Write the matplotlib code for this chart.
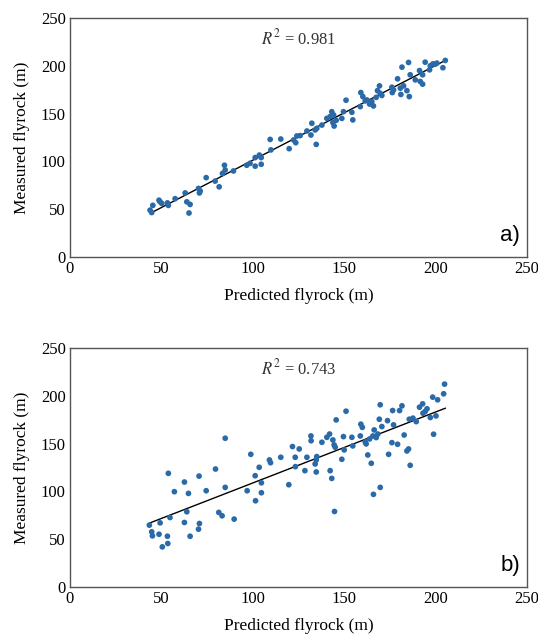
import numpy as np
import matplotlib
matplotlib.use("Agg")
import matplotlib.pyplot as plt

# ---- Panel a) data ----
a_pred = [43.8, 44.7, 45.3, 48.7, 49.3, 50.2, 53.3, 53.8, 57.5, 63.0, 63.9, 65.7, 65.1,
          70.3, 70.8, 71.2, 74.5, 79.4, 81.6, 83.4, 84.5, 84.9, 89.4, 96.7, 98.5, 101.3,
          101.3, 103.6, 104.6, 104.6, 109.5, 109.9, 115.3, 119.9, 122.3, 123.5, 124.1,
          125.9, 129.6, 131.8, 132.3, 134.1, 134.7, 135.0, 137.8, 140.5, 142.3, 143.2,
          144.2, 143.8, 144.5, 145.6, 148.7, 149.6, 151.0, 154.2, 154.7, 158.8, 159.1,
          160.2, 161.5, 162.4, 163.9, 165.1, 166.0, 167.5, 168.2, 169.3, 169.7, 170.6,
          176.1, 176.3, 177.0, 179.2, 180.7, 181.6, 181.0, 182.5, 184.3, 185.2, 185.6,
          186.1, 188.9, 191.2, 191.6, 192.9, 192.9, 194.3, 196.7, 197.1, 198.5, 199.8,
          200.7, 204.0, 205.3]
a_meas = [49.0, 46.5, 54.0, 59.4, 57.7, 56.0, 56.6, 54.0, 61.0, 67.0, 57.7, 55.0, 46.0,
          71.7, 67.0, 69.0, 83.0, 79.4, 73.4, 87.4, 96.0, 91.0, 90.0, 96.0, 98.0, 95.0,
          104.0, 106.6, 104.0, 97.0, 123.0, 112.0, 123.4, 113.3, 122.4, 119.6, 126.6,
          127.0, 131.8, 127.6, 139.9, 132.9, 117.8, 134.6, 138.0, 145.0, 146.9, 152.0,
          148.6, 140.6, 137.0, 143.0, 145.0, 152.0, 164.0, 151.4, 143.4, 157.3, 172.0,
          167.8, 163.3, 164.3, 160.0, 162.6, 158.0, 167.0, 174.0, 179.0, 171.3, 169.0,
          177.6, 172.0, 174.8, 186.4, 176.6, 198.6, 170.0, 179.0, 174.0, 203.5, 167.8,
          190.6, 185.3, 195.0, 183.6, 190.6, 180.8, 203.8, 195.8, 200.0, 202.0, 201.7,
          202.8, 198.0, 205.6]
a_fit_x = [44.7, 205.3]
a_fit_y = [46.5, 205.6]
a_r2 = "0.981"

# ---- Panel b) data ----
b_pred = [43.4, 44.7, 45.1, 49.3, 48.7, 50.5, 53.3, 53.5, 53.8, 54.7, 57.1, 62.6, 62.6,
          63.9, 64.8, 65.7, 70.3, 70.8, 70.6, 74.5, 79.6, 81.4, 83.2, 84.9, 84.9, 89.8,
          96.9, 98.9, 101.3, 101.5, 103.5, 104.7, 104.7, 109.1, 109.7, 115.3, 119.7,
          121.7, 123.2, 123.3, 125.4, 128.5, 129.6, 131.8, 131.9, 134.1, 134.7, 134.7,
          135.0, 137.8, 140.5, 142.0, 142.3, 143.2, 143.8, 144.5, 145.1, 144.7, 145.6,
          148.7, 149.6, 150.0, 151.0, 154.2, 154.7, 158.8, 159.1, 159.9, 161.5, 162.0,
          162.9, 163.9, 164.8, 165.7, 166.0, 166.4, 167.5, 168.4, 169.2, 169.7, 169.7,
          170.6, 173.7, 174.3, 176.1, 176.5, 177.0, 179.2, 180.3, 181.6, 182.8, 184.3,
          185.2, 185.6, 186.1, 187.6, 189.4, 191.2, 192.9, 193.1, 194.3, 195.3, 197.1,
          198.4, 198.9, 200.2, 201.1, 204.4, 204.9]
b_meas = [64.7, 57.7, 53.5, 67.1, 55.2, 42.0, 53.1, 45.5, 118.9, 72.7, 99.7, 109.8, 67.5,
          78.7, 97.9, 53.1, 60.5, 66.4, 116.0, 100.7, 123.4, 78.0, 74.5, 155.6, 104.2,
          71.0, 100.7, 138.8, 116.4, 90.2, 125.2, 109.0, 98.6, 132.9, 130.0, 135.7, 107.0,
          146.9, 135.7, 125.9, 144.4, 121.7, 135.7, 158.0, 153.0, 128.7, 132.9, 120.3,
          136.4, 151.4, 156.6, 160.0, 121.7, 113.6, 153.8, 148.6, 146.2, 79.0, 174.8,
          133.6, 157.3, 143.4, 183.9, 156.6, 147.6, 158.0, 170.3, 167.0, 151.7, 149.7,
          138.1, 154.9, 129.4, 158.0, 96.9, 164.3, 156.3, 160.0, 175.5, 190.6, 104.2,
          167.8, 174.0, 138.8, 151.0, 184.6, 169.6, 149.3, 184.6, 189.5, 159.0, 142.3,
          144.4, 175.5, 127.3, 176.6, 173.0, 188.1, 191.6, 181.8, 183.6, 186.4, 177.3,
          198.6, 159.8, 179.0, 195.8, 202.1, 212.2]
b_fit_x = [43.8, 205.3]
b_fit_y = [67.1, 187.0]
b_r2 = "0.743"

xticks = [0, 50, 100, 150, 200, 250]
yticks = [0, 50, 100, 150, 200, 250]

plt.rcParams["mathtext.fontset"] = "stix"
SERIF = ["Liberation Serif", "DejaVu Serif"]
SANS = ["Liberation Sans", "DejaVu Sans"]
DOT = "#2b6aa8"

fig = plt.figure(figsize=(5.38, 6.44), dpi=100)
W, H = 538, 644

def make_axes(top_px, bottom_px):
    l, r = 70, 527
    return fig.add_axes([l / W, 1 - bottom_px / H, (r - l) / W, (bottom_px - top_px) / H])

panels = [
    (make_axes(18, 257), a_pred, a_meas, a_fit_x, a_fit_y, a_r2, "a)"),
    (make_axes(348, 587), b_pred, b_meas, b_fit_x, b_fit_y, b_r2, "b)"),
]

for ax, px, my, fx, fy, r2, tag in panels:
    ax.scatter(px, my, s=17, color=DOT, edgecolors="none", zorder=3)
    ax.plot(fx, fy, color="black", lw=1.0, zorder=2)
    ax.set_xlim(0, 250)
    ax.set_ylim(0, 250)
    ax.set_xticks(xticks)
    ax.set_yticks(yticks)
    ax.tick_params(length=0, pad=3, labelsize=12)
    for lab in ax.get_xticklabels() + ax.get_yticklabels():
        lab.set_family(SERIF)
    for sp in ax.spines.values():
        sp.set_color("#555555")
        sp.set_linewidth(1.0)
    ax.set_xlabel("Predicted flyrock (m)", family=SERIF, fontsize=12.5, labelpad=8)
    ax.set_ylabel("Measured flyrock (m)", family=SERIF, fontsize=12.5, labelpad=8)
    ax.text(0.5, 0.915, r"$R^2$ = " + r2, transform=ax.transAxes, ha="center", va="center",
            family=SERIF, fontsize=12, color="#333333")
    ax.text(0.985, 0.09, tag, transform=ax.transAxes, ha="right", va="center",
            family=SANS, fontsize=16)

fig.savefig("out.png", dpi=100)
